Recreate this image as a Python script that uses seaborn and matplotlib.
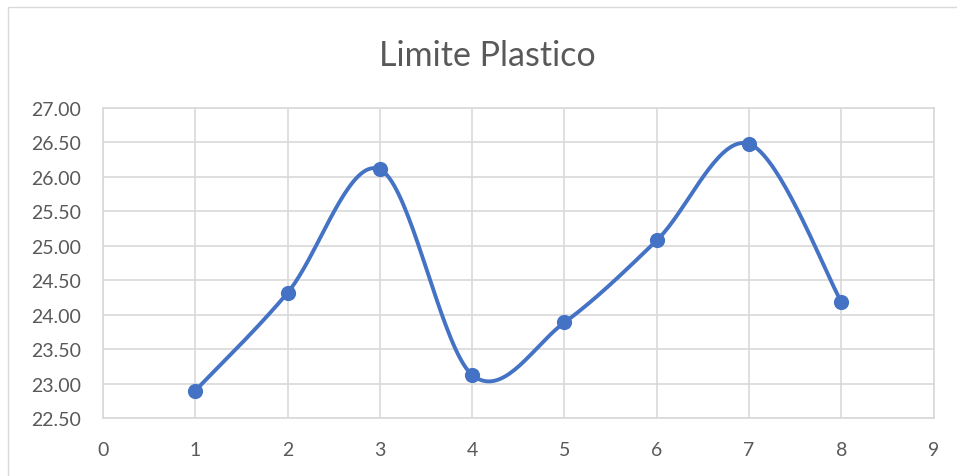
import matplotlib
matplotlib.use("Agg")
import matplotlib.pyplot as plt
import numpy as np
import pandas as pd
import seaborn as sns
from matplotlib.patches import Rectangle

# data
ensayo = [1, 2, 3, 4, 5, 6, 7, 8]
limite = [22.90, 24.32, 26.11, 23.13, 23.89, 25.08, 26.48, 24.19]

x_ticks = list(range(0, 10))
y_ticks = [22.5, 23.0, 23.5, 24.0, 24.5, 25.0, 25.5, 26.0, 26.5, 27.0]

BLUE = "#4472C4"
GRID = "#D9D9D9"
TEXT = "#595959"


def smooth_curve(xs, ys, n=40):
    """Excel-style smoothed line: cubic Bezier with Catmull-Rom control points."""
    p = np.column_stack([xs, ys]).astype(float)
    p_ext = np.vstack([p[0], p, p[-1]])
    out = []
    t = np.linspace(0, 1, n)[:, None]
    for i in range(len(p) - 1):
        p0, p1, p2, p3 = p_ext[i], p_ext[i + 1], p_ext[i + 2], p_ext[i + 3]
        c1 = p1 + (p2 - p0) / 6
        c2 = p2 - (p3 - p1) / 6
        seg = ((1 - t) ** 3) * p1 + 3 * ((1 - t) ** 2) * t * c1 \
            + 3 * (1 - t) * t ** 2 * c2 + t ** 3 * p2
        out.append(seg if i == 0 else seg[1:])
    return np.vstack(out)


sns.set_theme(style="white")
plt.rcParams["font.family"] = ["Lato", "DejaVu Sans"]

fig = plt.figure(figsize=(9.57, 4.77), dpi=100)
ax = fig.add_axes([0.1076, 0.121, 0.868, 0.6505])

# faint chart border like the Excel frame
fig.patches.append(Rectangle((8 / 957, -0.1), 1.2, 1.1 - 8 / 477,
                             transform=fig.transFigure, fill=False,
                             edgecolor=GRID, linewidth=1.0))

curve = smooth_curve(ensayo, limite)
df_curve = pd.DataFrame({"x": curve[:, 0], "y": curve[:, 1]})
df_pts = pd.DataFrame({"x": ensayo, "y": limite})

sns.lineplot(data=df_curve, x="x", y="y", sort=False, color=BLUE,
             linewidth=2.8, ax=ax, zorder=3)
sns.scatterplot(data=df_pts, x="x", y="y", color=BLUE, s=120,
                edgecolor=BLUE, linewidth=0, ax=ax, zorder=4)

ax.set_xlim(0, 9)
ax.set_ylim(22.5, 27.0)
ax.set_xticks(x_ticks)
ax.set_yticks(y_ticks)
ax.set_yticklabels([f"{v:.2f}" for v in y_ticks])
ax.grid(True, color=GRID, linewidth=1.2)
ax.set_axisbelow(True)
for s in ax.spines.values():
    s.set_visible(True)
    s.set_color(GRID)
    s.set_linewidth(1.2)
ax.tick_params(axis="both", length=0, labelsize=14, colors=TEXT)
ax.tick_params(axis="y", pad=16)
ax.tick_params(axis="x", pad=16)
ax.set_xlabel("")
ax.set_ylabel("")

fig.text(0.5095, 0.882, "Limite Plastico", ha="center", va="center",
         fontsize=24.5, color=TEXT)

fig.savefig("out.png", dpi=100)
